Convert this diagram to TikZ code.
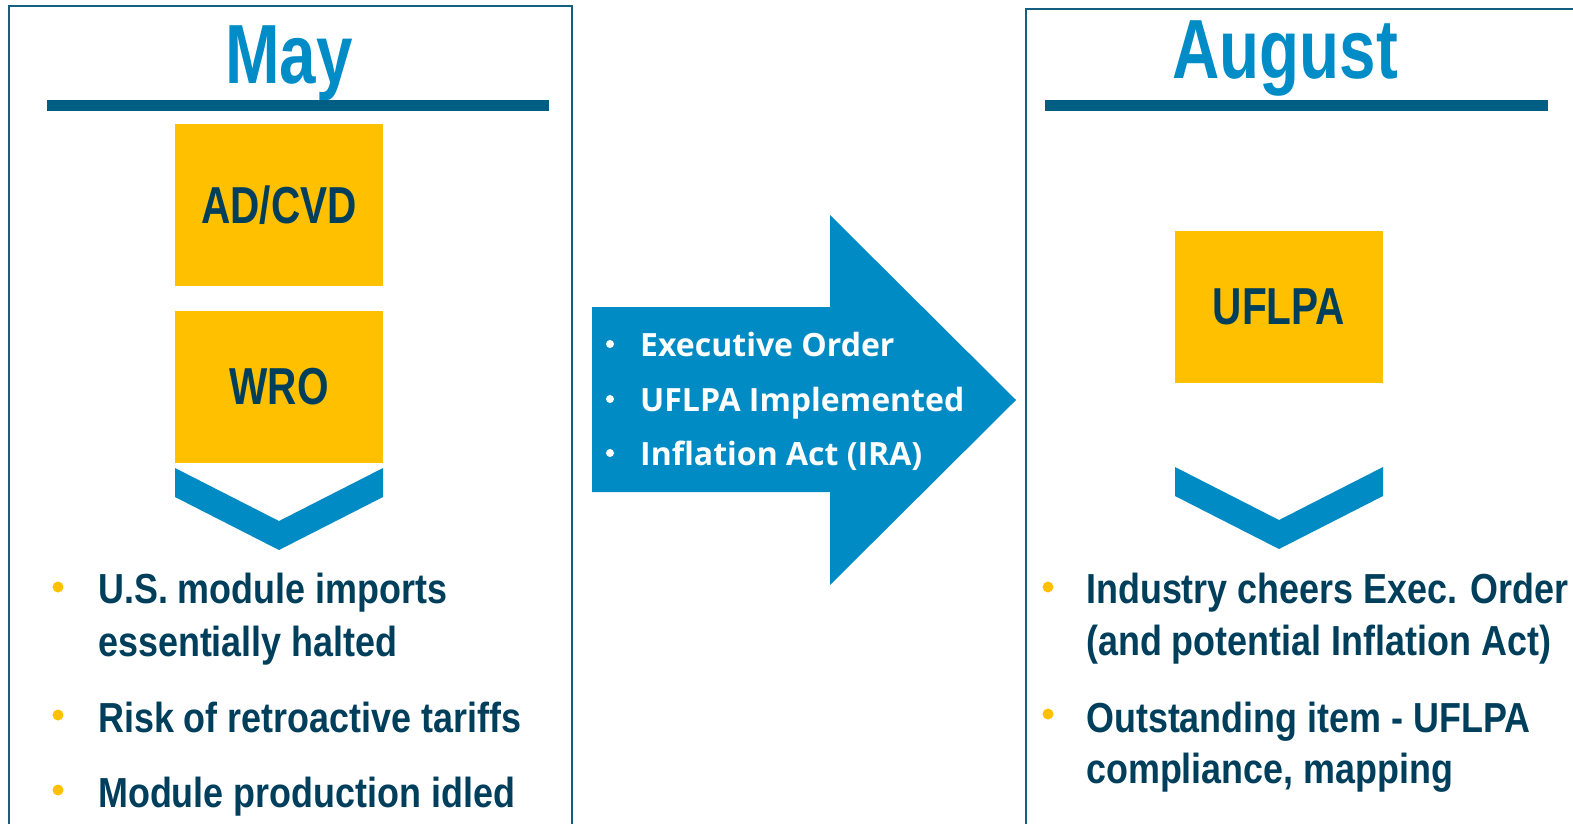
\documentclass[tikz,border=0pt]{standalone}
\usepackage{fontspec}
\setmainfont{Liberation Sans}
\newfontfamily\headfont[FakeStretch=0.78]{Liberation Sans}
\newfontfamily\condfont[FakeStretch=0.855]{Liberation Sans}
\newfontfamily\arrowfont{Open Sans}
\definecolor{titleblue}{RGB}{0,140,198}
\definecolor{arrowblue}{RGB}{0,139,196}
\definecolor{rulecol}{RGB}{0,94,131}
\definecolor{framecol}{RGB}{20,94,128}
\definecolor{gold}{RGB}{255,192,0}
\definecolor{navy}{RGB}{0,63,92}

\begin{document}
\begin{tikzpicture}[x=1pt, y=1pt,
  title/.style = {inner sep=0, anchor=base, text=titleblue,
    font=\headfont\bfseries\fontsize{84}{84}\selectfont},
  gbox/.style = {fill=gold, inner sep=0, minimum width=208, text=navy,
    font=\headfont\bfseries\fontsize{52}{52}\selectfont},
  item/.style = {inner sep=0, anchor=base west, text=navy,
    font=\condfont\bfseries\fontsize{42}{42}\selectfont},
  arrowtext/.style = {inner sep=0, anchor=base west, text=white,
    font=\arrowfont\bfseries\fontsize{32}{32}\selectfont},
  dot/.style = {circle, fill=gold, inner sep=0, minimum size=11},
  wdot/.style = {circle, fill=white, inner sep=0, minimum size=8}]
  \useasboundingbox (0,0) rectangle (1573,-823);
  \clip (0,0) rectangle (1573,-823);
  % frames
  \draw[framecol, line width=2.5] (9,-840) |- (572,-6) -- (572,-840);
  \draw[framecol, line width=2.5] (1026,-840) |- (1590,-9);
  % May
  \node[title] (may) at (289,-83) {May};
  \fill[rulecol] (47,-100) rectangle (549,-111);
  \node[gbox, minimum height=162] (adcvd) at (279,-205) {AD/CVD};
  \node[gbox, minimum height=152] (wro) at (279,-387) {WRO};
  \fill[arrowblue] (175,-468) -- (279,-521) -- (383,-468) -- (383,-497)
    -- (279,-550) -- (175,-497) -- cycle;
  \foreach \y in {587,715,790}
    \node[dot] (ldot\y) at (58,-\y) {};
  \foreach \y/\t in {603/U.S. module imports, 656/essentially halted,
      732/Risk of retroactive tariffs, 807/Module production idled}
    \node[item] (left\y) at (98,-\y) {\t};
  % arrow
  \fill[arrowblue] (592,-307) -- (830,-307) -- (830,-215) -- (1016,-400)
    -- (830,-585) -- (830,-492) -- (592,-492) -- cycle;
  \foreach \y in {344,399,453}
    \node[wdot] (adot\y) at (610,-\y) {};
  \foreach \y/\t in {356/Executive Order, 411/UFLPA Implemented,
      465/Inflation Act (IRA)}
    \node[arrowtext] (mid\y) at (640,-\y) {\t};
  % August
  \node[title] (aug) at (1285,-78) {August};
  \fill[rulecol] (1045,-100) rectangle (1548,-111);
  \node[gbox, minimum height=152] (uflpa) at (1279,-307) {UFLPA};
  \fill[arrowblue] (1175,-467) -- (1279,-520) -- (1383,-467) -- (1383,-496)
    -- (1279,-549) -- (1175,-496) -- cycle;
  \foreach \y in {587,714}
    \node[dot] (rdot\y) at (1048,-\y) {};
  \foreach \y/\t in {603/Industry cheers Exec. Order,
      655/(and potential Inflation Act),
      732/Outstanding item - UFLPA, 783/{compliance, mapping}}
    \node[item] (right\y) at (1086,-\y) {\t};
\end{tikzpicture}
\end{document}
